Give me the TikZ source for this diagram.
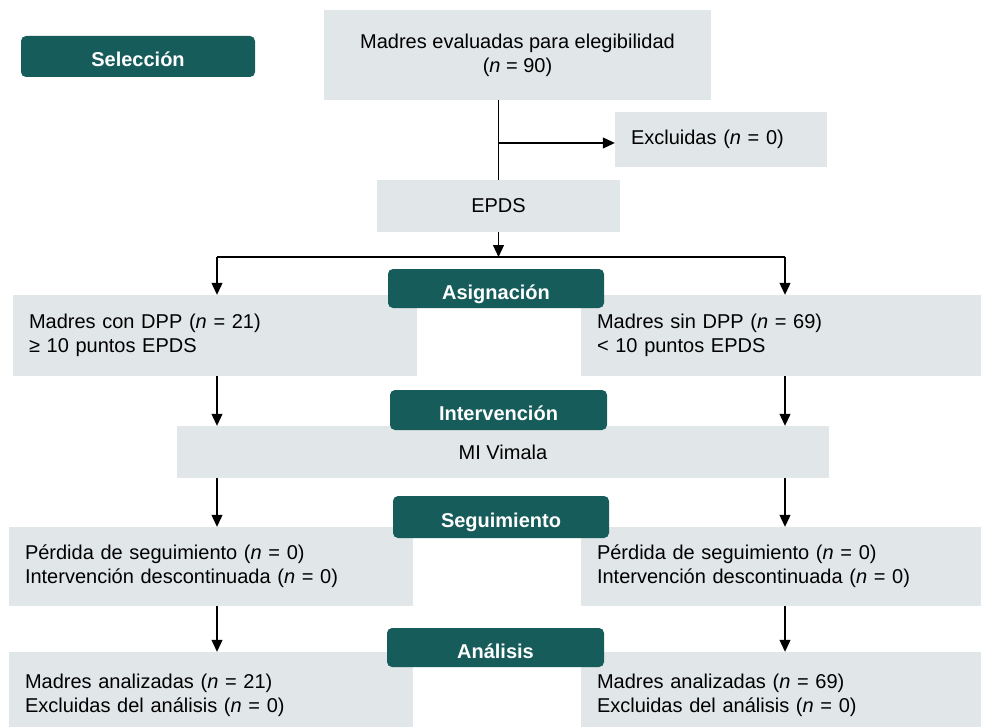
\documentclass[tikz,border=0pt]{standalone}
\usepackage{fontspec}
\setmainfont{Liberation Sans}
\usetikzlibrary{arrows.meta,positioning}
\definecolor{tealhead}{HTML}{165C5A}
\definecolor{boxgray}{HTML}{E1E6E8}
\newcommand{\nn}{\textit{n}}
\tikzset{
  graybox/.style={fill=boxgray, inner sep=0pt, font=\fontsize{20}{24}\selectfont},
  leftbox/.style={graybox, inner xsep=16pt, align=left, text width=#1},
  phase/.style={fill=tealhead, text=white, rounded corners=5pt, inner sep=0pt,
    text height=21pt, text depth=0pt, font=\fontsize{20}{24}\selectfont\bfseries},
  arr/.style={-{Triangle[width=11pt,length=12pt]}, line width=1.1pt},
}
\begin{document}
\begin{tikzpicture}[x=1pt,y=-1pt]
  \useasboundingbox (0,0) rectangle (981,727);
  % gray boxes
  \node (elig) [graybox, align=center, minimum width=387pt, minimum height=90pt] at (517.5,55)
    {Madres evaluadas para elegibilidad\\(\nn{} = 90)};
  \node (excl) [leftbox=180pt, minimum height=55pt] at (721,139.5) {Excluidas (\nn{} = 0)};
  \node (epds) [graybox, minimum width=243pt, minimum height=52pt] at (498.5,206) {EPDS};
  \node (dpp) [leftbox=372pt, minimum height=81pt] at (215,335.5)
    {Madres con DPP (\nn{} = 21)\\≥ 10 puntos EPDS};
  \node (sindpp) [leftbox=368pt, minimum height=81pt] at (781,335.5)
    {Madres sin DPP (\nn{} = 69)\\< 10 puntos EPDS};
  \node (vim) [graybox, minimum width=652pt, minimum height=52pt] at (503,452) {MI Vimala};
  \node (perdL) [leftbox=372pt, minimum height=79pt] at (211,566.5)
    {Pérdida de seguimiento (\nn{} = 0)\\Intervención descontinuada (\nn{} = 0)};
  \node (perdR) [leftbox=368pt, minimum height=79pt] at (781,566.5)
    {Pérdida de seguimiento (\nn{} = 0)\\Intervención descontinuada (\nn{} = 0)};
  \node (analL) [leftbox=372pt, minimum height=86pt] at (211,695)
    {Madres analizadas (\nn{} = 21)\\Excluidas del análisis (\nn{} = 0)};
  \node (analR) [leftbox=368pt, minimum height=86pt] at (781,695)
    {Madres analizadas (\nn{} = 69)\\Excluidas del análisis (\nn{} = 0)};

  % connectors
  \coordinate (split) at (498,143);
  \coordinate (colL) at (217,257);
  \coordinate (colR) at (785,257);
  \draw[line width=1.1pt] (elig.south -| epds.north) -- (epds.north);
  \draw[arr] (split) -- (split -| excl.west);
  \draw[arr] (epds.south) -- (epds.south |- colL);
  \draw[line width=1.1pt] (colL) -- (colR);
  \draw[arr] (colL) -- (colL |- dpp.north);
  \draw[arr] (colR) -- (colR |- sindpp.north);
  \draw[arr] (dpp.south -| colL) -- (vim.north -| colL);
  \draw[arr] (sindpp.south -| colR) -- (vim.north -| colR);
  \draw[arr] (vim.south -| colL) -- (perdL.north -| colL);
  \draw[arr] (vim.south -| colR) -- (perdR.north -| colR);
  \draw[arr] (perdL.south -| colL) -- (analL.north -| colL);
  \draw[arr] (perdR.south -| colR) -- (analR.north -| colR);

  % phase labels
  \node (sel) [phase, minimum width=234pt, minimum height=41pt] at (138,56.5) {Selección};
  \node (asig) [phase, minimum width=216pt, minimum height=39pt] at (496,288.5) {Asignación};
  \node (interv) [phase, minimum width=217pt, minimum height=40pt] at (498.5,410) {Intervención};
  \node (seg) [phase, minimum width=216pt, minimum height=42pt] at (501,517) {Seguimiento};
  \node (anal) [phase, minimum width=217pt, minimum height=39pt] at (495.5,647.5) {Análisis};
\end{tikzpicture}
\end{document}
